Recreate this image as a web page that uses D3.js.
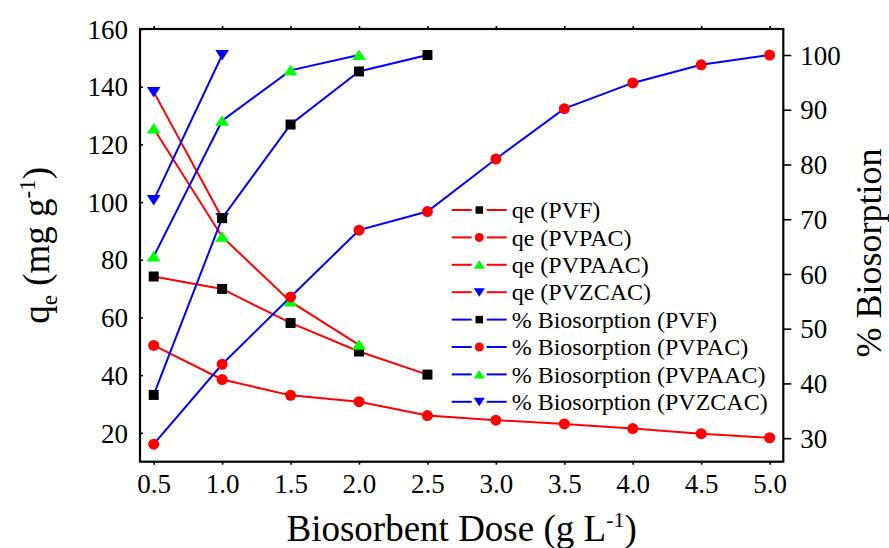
<!DOCTYPE html>
<html>
<head>
<meta charset="utf-8">
<script src="https://cdn.jsdelivr.net/npm/d3@7"></script>
<style>
  html, body { margin: 0; padding: 0; background: #fff; }
  svg { display: block; }
  svg text { font-family: "Liberation Serif", Tinos, "Times New Roman", "DejaVu Serif", serif; }
</style>
</head>
<body>
<svg id="chart" width="889" height="548"></svg>
<script>
// Biosorbent dose (g L-1) for each material
const dosePVF    = [0.5, 1.0, 1.5, 2.0, 2.5];
const dosePVPAC  = [0.5, 1.0, 1.5, 2.0, 2.5, 3.0, 3.5, 4.0, 4.5, 5.0];
const dosePVPAAC = [0.5, 1.0, 1.5, 2.0];
const dosePVZCAC = [0.5, 1.0];

// Uptake capacity qe (mg g-1)
const qePVF    = [74.2, 69.9, 58.1, 48.2, 40.2];
const qePVPAC  = [50.3, 38.5, 33.0, 30.8, 26.0, 24.4, 23.1, 21.5, 19.7, 18.3];
const qePVPAAC = [125.5, 88.0, 65.5, 50.5];
const qePVZCAC = [138.2, 94.5];

// Percentage biosorption
const bioPVF    = [37.9, 70.2, 87.3, 97.0, 100.0];
const bioPVPAC  = [28.9, 43.5, 55.8, 68.0, 71.4, 81.0, 90.2, 94.9, 98.2, 100.0];
const bioPVPAAC = [63.2, 88.0, 97.2, 100.0];
const bioPVZCAC = [73.5, 100.0];

// Axis ticks
const xTicks  = [0.5, 1.0, 1.5, 2.0, 2.5, 3.0, 3.5, 4.0, 4.5, 5.0];
const yLTicks = [20, 40, 60, 80, 100, 120, 140, 160];
const yRTicks = [30, 40, 50, 60, 70, 80, 90, 100];

const FONT = "'Liberation Serif', Tinos, 'Times New Roman', 'DejaVu Serif', serif";
const svg = d3.select("#chart");
const L = 140, R = 783.3, T = 29, B = 461.7;

const x  = d3.scaleLinear().domain([0.4, 5.1]).range([L, R]);
const yL = d3.scaleLinear().domain([10, 160]).range([B, T]);
const yR = d3.scaleLinear().domain([25.7, 104.75]).range([B, T]);

const RED = "#ff0000", BLUE = "#0000ff", GREEN = "#00ff00", BLACK = "#000000";

// Marker shapes
function markerPath(shape, s) {
  if (shape === "square") {
    const h = s / 2;
    return `M${-h},${-h}H${h}V${h}H${-h}Z`;
  }
  if (shape === "circle") {
    const r = s / 2;
    return `M${r},0A${r},${r} 0 1,1 ${-r},0A${r},${r} 0 1,1 ${r},0Z`;
  }
  const w = s * 0.62, h = s * 0.5;
  if (shape === "up") return `M0,${-h}L${w},${h * 0.9}L${-w},${h * 0.9}Z`;
  return `M0,${h}L${w},${-h * 0.9}L${-w},${-h * 0.9}Z`;
}

const series = [
  { name: "qe (PVF)",    xs: dosePVF,    ys: qePVF,    scale: yL, line: RED,  shape: "square", fill: BLACK, size: 10 },
  { name: "qe (PVPAC)",  xs: dosePVPAC,  ys: qePVPAC,  scale: yL, line: RED,  shape: "circle", fill: RED,   size: 11 },
  { name: "qe (PVPAAC)", xs: dosePVPAAC, ys: qePVPAAC, scale: yL, line: RED,  shape: "up",     fill: GREEN, size: 11 },
  { name: "qe (PVZCAC)", xs: dosePVZCAC, ys: qePVZCAC, scale: yL, line: RED,  shape: "down",   fill: BLUE,  size: 11 },
  { name: "% Biosorption (PVF)",    xs: dosePVF,    ys: bioPVF,    scale: yR, line: BLUE, shape: "square", fill: BLACK, size: 10 },
  { name: "% Biosorption (PVPAC)",  xs: dosePVPAC,  ys: bioPVPAC,  scale: yR, line: BLUE, shape: "circle", fill: RED,   size: 11 },
  { name: "% Biosorption (PVPAAC)", xs: dosePVPAAC, ys: bioPVPAAC, scale: yR, line: BLUE, shape: "up",     fill: GREEN, size: 11 },
  { name: "% Biosorption (PVZCAC)", xs: dosePVZCAC, ys: bioPVZCAC, scale: yR, line: BLUE, shape: "down",   fill: BLUE,  size: 11 }
];

// Axes
const fontTick = 27;
const gB = svg.append("g").attr("transform", `translate(0,${B})`)
  .call(d3.axisBottom(x).tickValues(xTicks).tickFormat(d3.format(".1f")).tickSize(3).tickPadding(10));
const gT = svg.append("g").attr("transform", `translate(0,${T})`)
  .call(d3.axisTop(x).tickValues(xTicks).tickFormat("").tickSize(3));
const gL = svg.append("g").attr("transform", `translate(${L},0)`)
  .call(d3.axisLeft(yL).tickValues(yLTicks).tickSize(-3).tickPadding(12));
const gR = svg.append("g").attr("transform", `translate(${R},0)`)
  .call(d3.axisRight(yR).tickValues(yRTicks).tickSize(8).tickPadding(9));

[gB, gT, gL, gR].forEach(g => {
  g.attr("font-family", FONT).attr("font-size", fontTick);
  g.select(".domain").remove();
  g.selectAll(".tick line").attr("stroke", "#000").attr("stroke-width", 1.6);
  g.selectAll(".tick text").attr("fill", "#000");
});
gL.selectAll(".tick text").attr("dy", "0.34em");
gR.selectAll(".tick text").attr("dy", "0.34em");
gB.selectAll(".tick text").attr("dy", "0.66em");

// plot frame
svg.append("rect").attr("x", L).attr("y", T).attr("width", R - L).attr("height", B - T)
  .attr("fill", "none").attr("stroke", "#000").attr("stroke-width", 2.2);

// Data lines, then markers on top
const plot = svg.append("g");
series.forEach(s => {
  const pts = s.xs.map((d, i) => [d, s.ys[i]]);
  const line = d3.line().x(d => x(d[0])).y(d => s.scale(d[1]));
  plot.append("path").datum(pts).attr("d", line)
    .attr("fill", "none").attr("stroke", s.line).attr("stroke-width", 2);
});
series.forEach(s => {
  const pts = s.xs.map((d, i) => [d, s.ys[i]]);
  plot.selectAll(null).data(pts).enter().append("path")
    .attr("transform", d => `translate(${x(d[0])},${s.scale(d[1])})`)
    .attr("d", markerPath(s.shape, s.size))
    .attr("fill", s.fill).attr("stroke", "none");
});

// Legend
const legend = svg.append("g").attr("font-family", FONT);
const legY0 = 210, legDy = 27.4;
series.forEach((s, i) => {
  const g = legend.append("g").attr("transform", `translate(0,${legY0 + i * legDy})`);
  g.append("line").attr("x1", 451.7).attr("x2", 471.7).attr("stroke", s.line).attr("stroke-width", 2);
  g.append("line").attr("x1", 486.7).attr("x2", 506.7).attr("stroke", s.line).attr("stroke-width", 2);
  const ms = s.shape === "square" ? 7.5 : 9;
  g.append("path").attr("transform", "translate(479.3,0)")
    .attr("d", markerPath(s.shape, ms)).attr("fill", s.fill);
  g.append("text").attr("x", 511.7).attr("dy", "0.34em")
    .attr("font-size", 24).attr("fill", "#000").text(s.name);
});

// Axis titles
const xt = svg.append("text").attr("x", (L + R) / 2).attr("y", 541)
  .attr("text-anchor", "middle").attr("font-family", FONT).attr("font-size", 37).attr("fill", "#000");
xt.append("tspan").text("Biosorbent Dose (g L");
xt.append("tspan").attr("dy", -14).attr("font-size", 22).text("-1");
xt.append("tspan").attr("dy", 14).text(")");

const ylt = svg.append("text")
  .attr("transform", `translate(49,${(T + B) / 2}) rotate(-90)`)
  .attr("text-anchor", "middle").attr("font-family", FONT).attr("font-size", 37).attr("fill", "#000");
ylt.append("tspan").text("q");
ylt.append("tspan").attr("dy", 8).attr("font-size", 23).text("e");
ylt.append("tspan").attr("dy", -8).text(" (mg g");
ylt.append("tspan").attr("dy", -14).attr("font-size", 23).text("-1");
ylt.append("tspan").attr("dy", 14).text(")");

svg.append("text")
  .attr("transform", `translate(881,253) rotate(-90)`)
  .attr("text-anchor", "middle").attr("font-family", FONT).attr("font-size", 36).attr("fill", "#000")
  .text("% Biosorption");
</script>
</body>
</html>
